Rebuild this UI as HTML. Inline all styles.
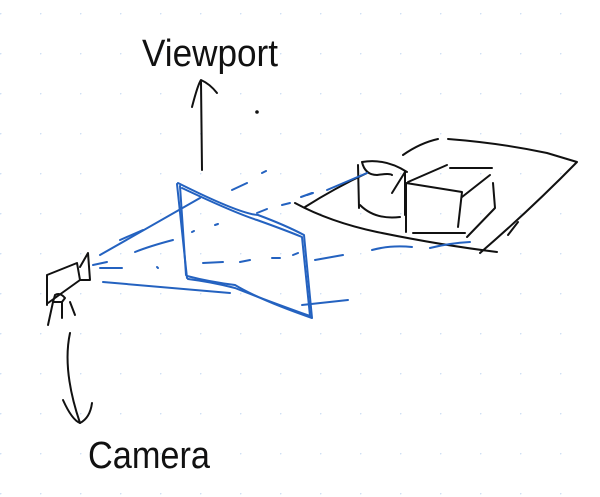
<!DOCTYPE html>
<html><head><meta charset="utf-8"><style>
html,body{margin:0;padding:0;background:#fff;}
svg{display:block;}
</style></head><body>
<svg width="600" height="497" viewBox="0 0 600 497" xmlns="http://www.w3.org/2000/svg">
<defs>
<pattern id="dots" x="0" y="13" width="40" height="40" patternUnits="userSpaceOnUse">
<circle cx="0.5" cy="0.5" r="1" fill="#cfe0f5"/>
</pattern>
</defs>
<rect width="600" height="497" fill="#fff"/>
<rect width="600" height="497" fill="url(#dots)"/>

<text x="142" y="66" font-family="Liberation Sans, sans-serif" font-size="38" fill="#111" textLength="136" lengthAdjust="spacingAndGlyphs">Viewport</text>
<text x="88" y="468" font-family="Liberation Sans, sans-serif" font-size="38" fill="#111" textLength="122" lengthAdjust="spacingAndGlyphs">Camera</text>

<g fill="none" stroke="#111" stroke-width="2" stroke-linecap="round" stroke-linejoin="round">
<path d="M202 170 L201 82"/>
<path d="M192 107 Q198 84 201 80 Q210 84 217 93"/>
<circle cx="257" cy="112" r="0.8" fill="#111"/>
<!-- camera arrow -->
<path d="M70 333 Q62 370 80 423"/>
<path d="M63 400 Q72 420 80 423 Q90 418 92 403"/>
<!-- camera -->
<path d="M47 275 L77 263 L80 280 L48 303 M47 275 L47 305"/>
<path d="M80 267 L88 253 L90 280 L80 280"/>
<path d="M55 295 Q60 292 65 298 L62 302 L53 302 Z"/>
<path d="M53 302 L48 325 M62 302 L62 318 M70 302 L75 315"/>
<!-- ground plane -->
<path d="M403 155 Q420 143 438 139 M448 139 Q500 143 547 153 L577 162 Q530 210 480 253"/>
<path d="M295 203 Q330 222 377 232 Q440 245 497 252"/>
<path d="M305 207 Q335 188 367 173"/>
<path d="M508 235 L518 222"/>
<!-- cylinder -->
<path d="M362 162 Q385 158 407 172 M362 162 Q365 175 377 175 Q390 173 392 175"/>
<path d="M358 165 L359 208 M405 172 L405 215"/>
<path d="M360 205 Q375 220 400 217"/>
<path d="M392 193 L405 172"/>
<!-- box -->
<path d="M406 183 L406 232 M406 183 L462 192 L458 227 M413 233 L465 233"/>
<path d="M408 182 L447 165 M450 168 L492 168 M490 175 L462 197 M493 183 L495 208 L467 237"/>
</g>

<g fill="none" stroke="#2462c0" stroke-width="2" stroke-linecap="round" stroke-linejoin="round">
<!-- frame -->
<path d="M177 184 L187 278"/>
<path d="M180 186 L186 275"/>
<path d="M178 183 Q240 214 258 215 Q285 225 304 235 L312 318 Q260 300 235 285 Q210 282 187 276"/>
<path d="M182 188 Q235 213 257 220 Q285 230 302 237 L310 316 Q260 298 235 288 Q212 282 188 279"/>
<!-- rays -->
<path d="M100 255 L200 198"/>
<path d="M120 240 L143 230"/>
<path d="M103 282 Q170 288 230 293"/>
<path d="M302 305 L348 300"/>
<path d="M93 265 L107 262 M100 268 L122 268"/>
<path d="M157 267 L158 268"/>
<path d="M135 252 Q150 246 173 240 M192 232 L194 231 M215 225 L218 224"/>
<path d="M232 190 L247 183 M262 173 L266 171"/>
<path d="M257 213 L267 209 M282 205 L290 203 M307 195 L313 193"/>
<path d="M327 190 L367 173"/>
<path d="M203 263 L223 262 M240 262 L250 260 M272 258 L280 258 M293 255 L298 253"/>
<path d="M315 260 L343 255"/>
<path d="M372 250 Q390 245 412 247 M430 248 Q450 243 470 242"/>
<path d="M301 197 L312 193"/>
</g>
</svg>
</body></html>
